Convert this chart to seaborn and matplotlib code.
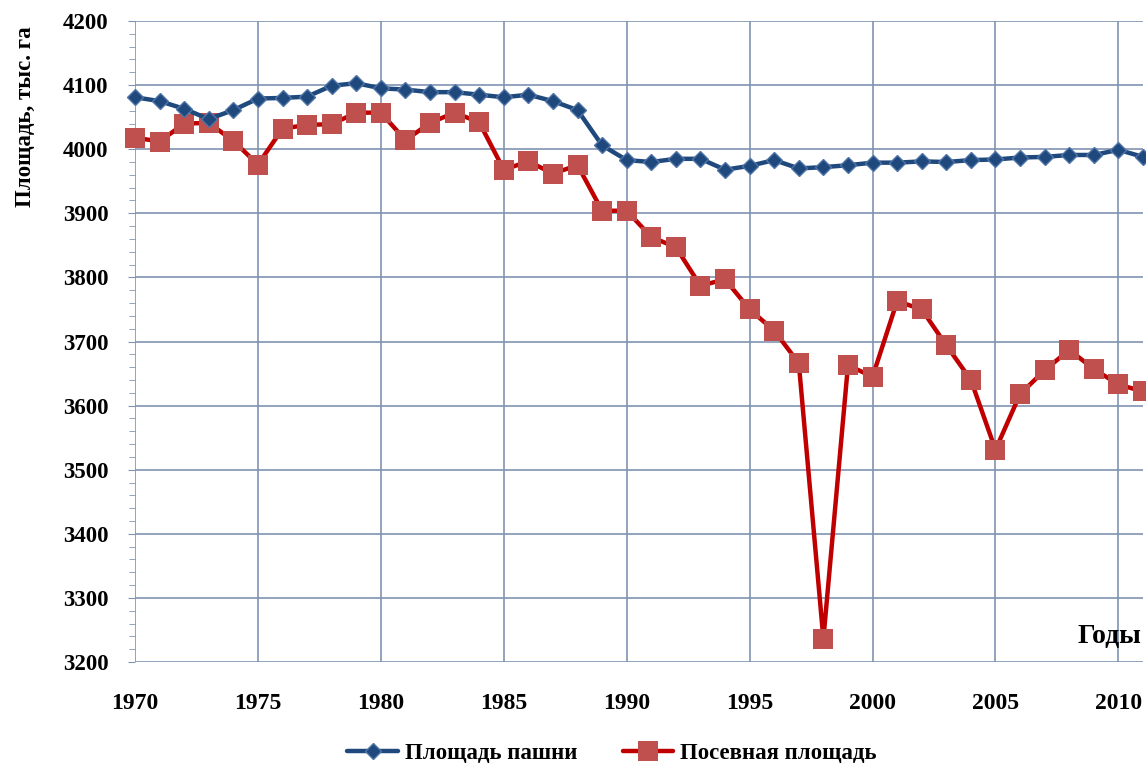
import numpy as np
import pandas as pd
import matplotlib
matplotlib.use("Agg")
import matplotlib.pyplot as plt
from matplotlib.ticker import MultipleLocator
import seaborn as sns

# Data
years = list(range(1970, 2012))
arable = [4081, 4075, 4063, 4047, 4061, 4079, 4080, 4082, 4099, 4103, 4095, 4093,
          4089, 4089, 4085, 4081, 4085, 4075, 4061, 4006, 3983, 3980, 3985, 3985,
          3968, 3974, 3983, 3970, 3972, 3975, 3979, 3979, 3981, 3980, 3983, 3984,
          3987, 3988, 3991, 3991, 3999, 3988]
sown = [4018, 4012, 4040, 4041, 4013, 3976, 4032, 4038, 4039, 4057, 4057, 4014,
        4041, 4057, 4042, 3968, 3981, 3962, 3975, 3904, 3904, 3863, 3847, 3787,
        3797, 3750, 3717, 3666, 3236, 3663, 3645, 3763, 3750, 3694, 3640, 3531,
        3618, 3655, 3687, 3657, 3633, 3622]
label_arable = "Площадь пашни"
label_sown = "Посевная площадь"

df = pd.DataFrame({"year": years, "arable": arable, "sown": sown})

sns.set_style("white")
plt.rcParams["font.family"] = ["Liberation Serif", "DejaVu Serif"]
plt.rcParams["font.weight"] = "bold"
plt.rcParams["text.color"] = "black"
plt.rcParams["axes.labelcolor"] = "black"
plt.rcParams["xtick.color"] = "black"
plt.rcParams["ytick.color"] = "black"

grid_color = "#8094b2"

fig = plt.figure(figsize=(11.46, 7.67), dpi=100)
ax = fig.add_axes([135 / 1146, 105 / 767, 1008 / 1146, 641 / 767])

sns.lineplot(data=df, x="year", y="arable", ax=ax, color="#1f497d", linewidth=3.2,
             marker="D", markersize=8, markerfacecolor="#1f497d",
             markeredgecolor="#4f74a8", markeredgewidth=1, label=label_arable,
             clip_on=False, zorder=4)
sns.lineplot(data=df, x="year", y="sown", ax=ax, color="#c00000", linewidth=3.2,
             marker="s", markersize=15, markerfacecolor="#c0504d",
             markeredgecolor="#c0504d", markeredgewidth=0, label=label_sown,
             clip_on=False, zorder=3)

ax.set_xlim(1970, 2011)
ax.set_ylim(3200, 4200)
ax.xaxis.set_major_locator(MultipleLocator(5))
ax.yaxis.set_major_locator(MultipleLocator(100))
ax.yaxis.set_minor_locator(MultipleLocator(20))
ax.grid(True, which="major", color=grid_color, linewidth=1.2)
ax.set_axisbelow(True)
for s in ax.spines.values():
    s.set_visible(False)

ax.tick_params(axis="x", which="major", length=4, color=grid_color, pad=18,
               labelsize=17, labelcolor="black")
ax.tick_params(axis="y", which="major", length=5, color=grid_color, pad=14,
               labelsize=16.5, left=True, labelcolor="black")
ax.tick_params(axis="y", which="minor", length=4, color=grid_color, left=True)
for lbl in ax.get_xticklabels() + ax.get_yticklabels():
    lbl.set_fontweight("bold")

ax.set_xlabel("")
ax.set_ylabel("Площадь, тыс. га", fontsize=16.5, fontweight="bold", color="black")
# y label sits near the top of the axis, as in the original
ax.yaxis.set_label_coords(-0.098, 0.85)
ax.text(0.998, 0.04, "Годы", transform=ax.transAxes, ha="right", va="center",
        fontsize=20, fontweight="bold", color="black")

ax.get_legend().remove()
handles, labels = ax.get_legend_handles_labels()
fig.legend(handles, labels, loc="center", bbox_to_anchor=(0.534, 0.018), ncol=2,
           frameon=False, prop={"size": 16.5, "weight": "bold"}, handlelength=2.2,
           handletextpad=0.3, columnspacing=2.0, labelcolor="black")

fig.savefig("out.png", dpi=100)
